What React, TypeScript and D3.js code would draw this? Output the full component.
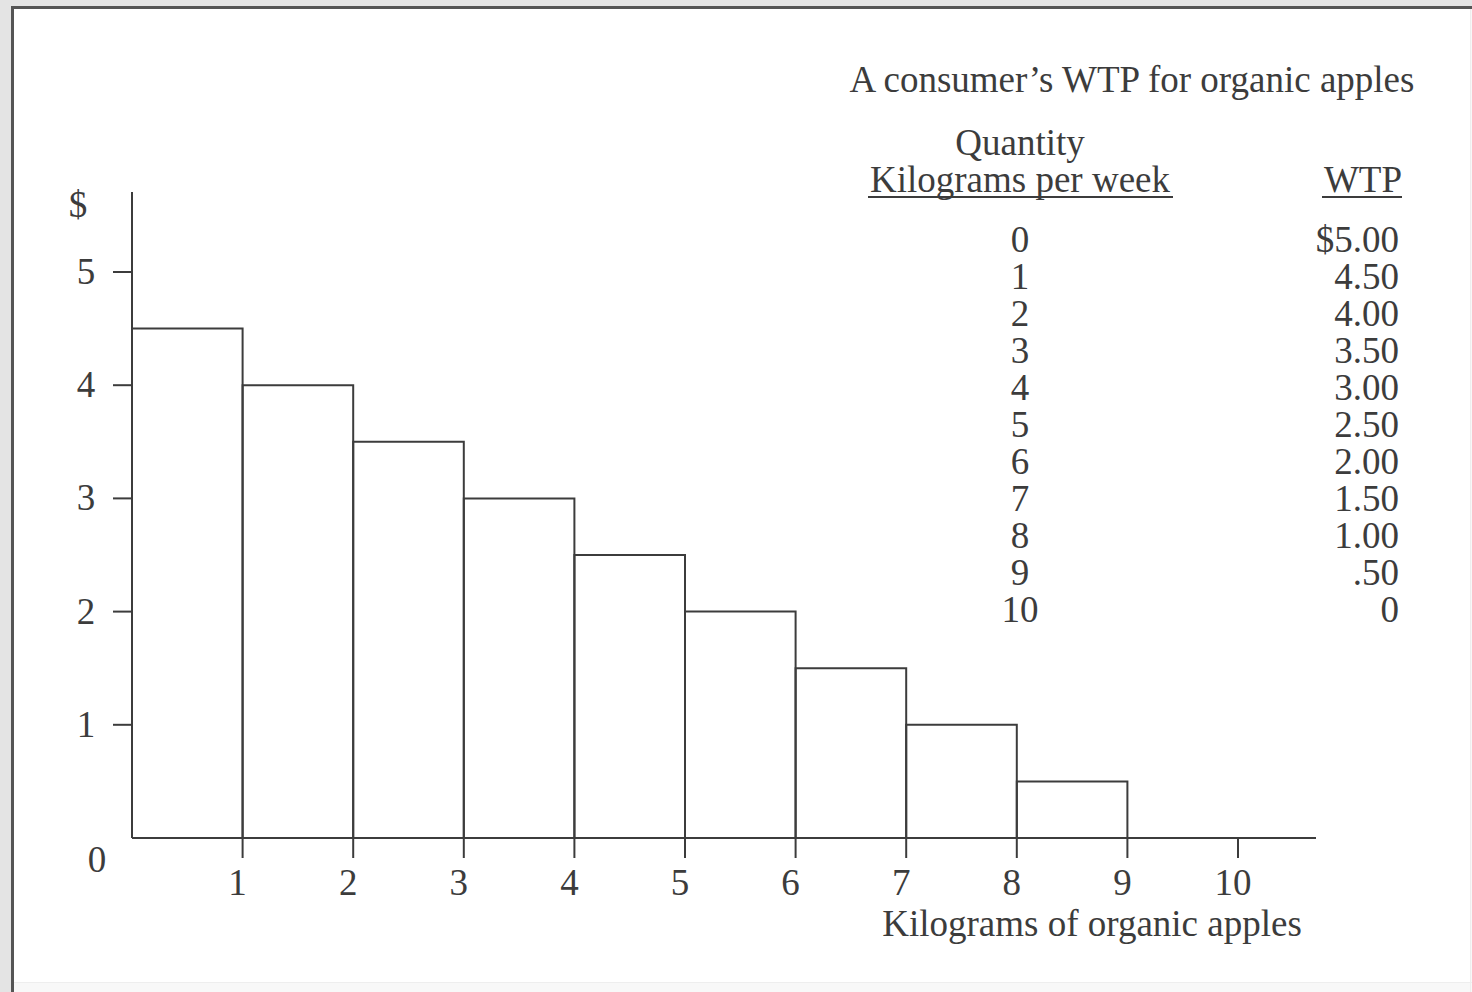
import React from "react";
import * as d3 from "d3";

const quantities = [0, 1, 2, 3, 4, 5, 6, 7, 8, 9, 10];
const wtpValues = [5.0, 4.5, 4.0, 3.5, 3.0, 2.5, 2.0, 1.5, 1.0, 0.5, 0];
const wtpLabels = ["$5.00", "4.50", "4.00", "3.50", "3.00", "2.50", "2.00", "1.50", "1.00", ".50", "0"];
const xTicks = [1, 2, 3, 4, 5, 6, 7, 8, 9, 10];
const yTicks = [1, 2, 3, 4, 5];

const title = "A consumer\u2019s WTP for organic apples";
const xAxisLabel = "Kilograms of organic apples";

const W = 1472;
const H = 992;
const INK = "#3c3c3c";
const FONT = "'Liberation Serif', 'Times New Roman', serif";

export default function App() {
  const x = d3.scaleLinear().domain([0, 10]).range([132, 1238]);
  const y = d3.scaleLinear().domain([0, 5]).range([838, 272]);

  // bars: unit i (from i to i+1) with height WTP of the (i+1)th kilogram
  const bars = d3.range(0, 9).map((i) => ({ x0: i, x1: i + 1, v: wtpValues[i + 1] }));

  const rowY = d3.scaleLinear().domain([0, 10]).range([252, 622]);

  return (
    <svg
      width={W}
      height={H}
      style={{ position: "absolute", left: 0, top: 0, background: "#f8f8f8" }}
    >
      <rect x={0} y={0} width={W} height={6} fill="#e4e4e4" />
      <rect x={0} y={0} width={11} height={H} fill="#e4e4e4" />
      <rect x={12} y={7} width={1458} height={975} fill="#ffffff" />
      <line x1={12.5} y1={7} x2={12.5} y2={H} stroke="#555" strokeWidth={3} />
      <line x1={11} y1={7.5} x2={W} y2={7.5} stroke="#555" strokeWidth={3} />
      <line x1={1470.5} y1={9} x2={1470.5} y2={H} stroke="#eeeeee" strokeWidth={1} />
      <line x1={14} y1={982.5} x2={W} y2={982.5} stroke="#eeeeee" strokeWidth={1} />

      <g fill="none" stroke={INK} strokeWidth={2}>
        {/* bars */}
        {bars.map((b, i) => (
          <path
            key={i}
            d={`M${x(b.x0)},${y(0)} V${y(b.v)} H${x(b.x1)} V${y(0)}`}
          />
        ))}
        {/* axes */}
        <line x1={x(0)} y1={y(0)} x2={x(0)} y2={192} />
        <line x1={x(0)} y1={y(0)} x2={1316} y2={y(0)} />
        {yTicks.map((t) => (
          <line key={t} x1={x(0) - 19} x2={x(0)} y1={y(t)} y2={y(t)} />
        ))}
        {xTicks.map((t) => (
          <line key={t} x1={x(t)} x2={x(t)} y1={y(0)} y2={y(0) + 20} />
        ))}
      </g>

      <g fontFamily={FONT} fill={INK} fontSize={37}>
        {yTicks.map((t) => (
          <text key={t} x={86} y={y(t) + 12} textAnchor="middle">
            {t}
          </text>
        ))}
        <text x={78} y={217} textAnchor="middle">$</text>
        <text x={97} y={872} textAnchor="middle">0</text>
        {xTicks.map((t) => (
          <text key={t} x={x(t) - 5} y={895} textAnchor="middle">
            {t}
          </text>
        ))}
        <text x={1092} y={936} textAnchor="middle">{xAxisLabel}</text>

        <text x={1132} y={92} textAnchor="middle">{title}</text>
        <text x={1020} y={155} textAnchor="middle">Quantity</text>
        <text x={1020} y={192} textAnchor="middle">Kilograms per week</text>
        <text x={1402} y={192} textAnchor="end">WTP</text>
        {quantities.map((q, i) => (
          <text key={"q" + q} x={1020} y={rowY(i)} textAnchor="middle">
            {q}
          </text>
        ))}
        {wtpLabels.map((l, i) => (
          <text key={"w" + i} x={1399} y={rowY(i)} textAnchor="end">
            {l}
          </text>
        ))}
      </g>
      <g stroke={INK} strokeWidth={2}>
        <line x1={868} x2={1173} y1={197} y2={197} />
        <line x1={1322} x2={1402} y1={197} y2={197} />
      </g>
    </svg>
  );
}
